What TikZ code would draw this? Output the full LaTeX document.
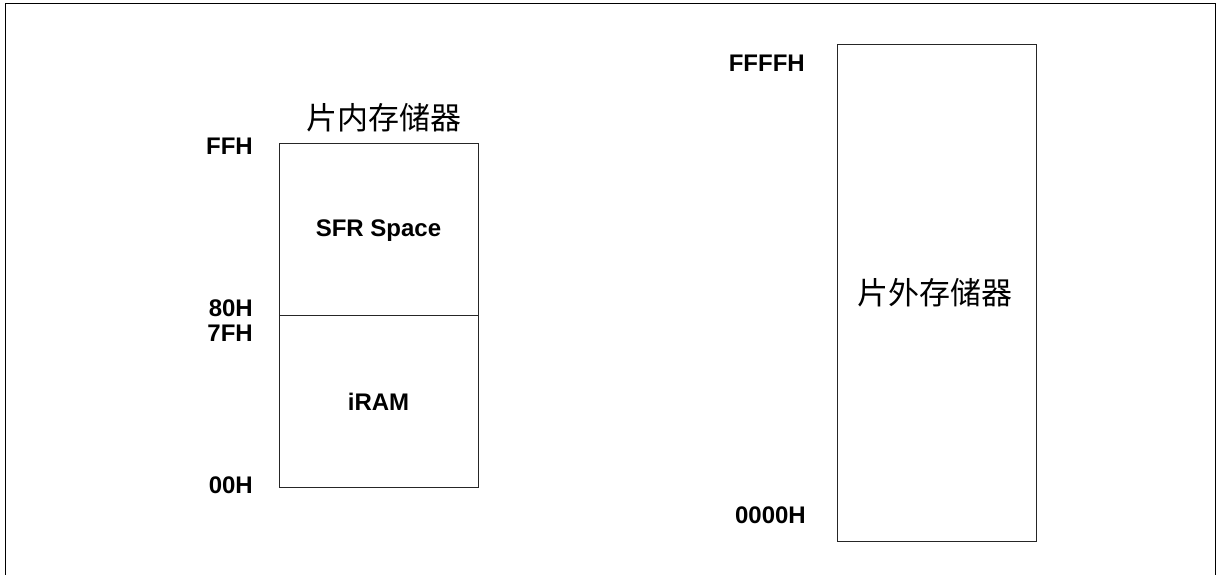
\documentclass[tikz,border=0pt]{standalone}
\usepackage{fontspec}
\setmainfont{Liberation Sans}
\newfontfamily\cjk{Noto Sans CJK SC}
\begin{document}
\begin{tikzpicture}[x=1pt,y=-1pt,
  box/.style={draw=black!85,line width=1pt},
  addr/.style={font=\fontsize{24}{24}\selectfont\bfseries,anchor=base east,inner sep=0pt},
  inlabel/.style={font=\fontsize{24}{24}\selectfont\bfseries,anchor=base,inner sep=0pt},
  cjklabel/.style={font=\cjk\fontsize{31}{31}\selectfont,inner sep=0pt}]
\useasboundingbox (0,0) rectangle (1221,575);
\draw[line width=1.5pt] (5.5,600) -- (5.5,3.5) -- (1215.5,3.5) -- (1215.5,600);
% on-chip memory
\coordinate (ltl) at (279,144);
\coordinate (lbr) at (478,487);
\draw[box] (ltl) rectangle (lbr);
\coordinate (dl) at (279,315);
\coordinate (dr) at (478,315);
\draw[box] (dl) -- (dr);
\node[cjklabel] (tin) at (383.5,118) {片内存储器};
\node[inlabel] (sfr) at (378.5,236) {SFR Space};
\node[inlabel] (iram) at (378.5,410) {iRAM};
\node[addr] (ffh) at (253,154) {FFH};
\node[addr] (h80) at (253,316) {80H};
\node[addr] (h7f) at (253,341) {7FH};
\node[addr] (h00) at (253,493) {00H};
% off-chip memory
\coordinate (rtl) at (837,45);
\coordinate (rbr) at (1036,541);
\draw[box] (rtl) rectangle (rbr);
\node[cjklabel] (tout) at (935,293) {片外存储器};
\node[addr] (fffff) at (805,72) {FFFFH};
\node[addr] (h0000) at (806,523) {0000H};
\end{tikzpicture}
\end{document}
